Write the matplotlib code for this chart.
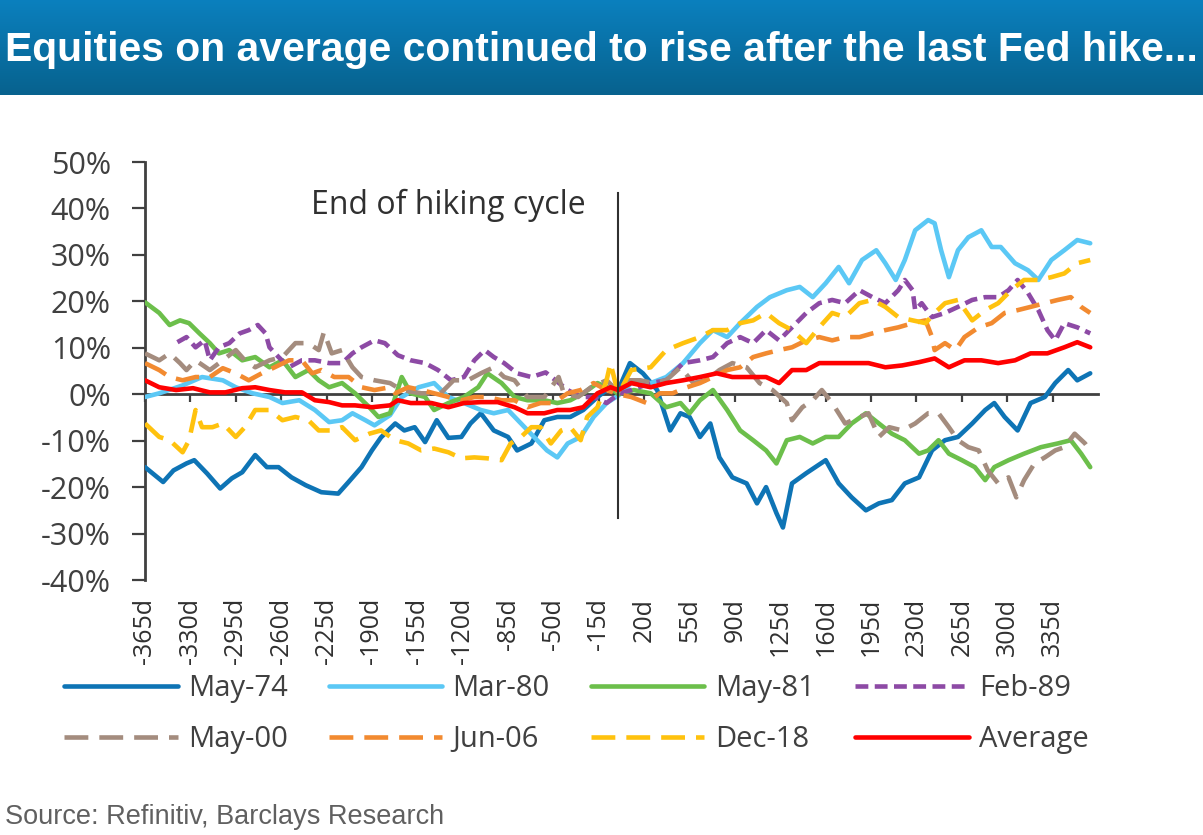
import matplotlib
matplotlib.use("Agg")
import matplotlib.pyplot as plt
import numpy as np
from matplotlib.ticker import FuncFormatter

# --- data: cumulative equity return (%) around the last Fed hike (day 0) ---
may74_days = [-365, -351, -343, -333, -327, -317, -307, -298, -290, -280, -271, -262, -252, -241, -229, -216, -208, -198, -190, -183,
              -172, -165, -157, -149, -140, -131, -121, -114, -106, -96, -85, -78, -67, -57, -47, -37, -27, -16, -6, 0,
              9, 19, 30, 40, 48, 55, 63, 71, 78, 88, 99, 107, 114, 122, 127, 134, 145, 160, 170, 180,
              191, 201, 211, 221, 232, 242, 252, 262, 273, 283, 290, 298, 308, 318, 329, 337, 347, 354, 364]
may74_vals = [-15.7, -18.9, -16.4, -14.9, -14.2, -17.1, -20.3, -18.1, -16.8, -13.1, -15.7, -15.7, -17.9, -19.6, -21.1, -21.4, -18.9, -15.7, -12.1, -9.3,
              -6.3, -7.8, -7.1, -10.3, -5.6, -9.4, -9.2, -6.3, -4.1, -7.8, -9.2, -12.1, -10.6, -5.6, -4.9, -4.9, -3.4, -0.6, 1.5, 0.9,
              6.7, 4.5, 0.9, -7.8, -4.1, -4.9, -9.2, -6.3, -13.6, -17.9, -19.2, -23.5, -20.0, -25.6, -28.7, -19.2, -17.0, -14.2, -19.2, -22.2,
              -25.0, -23.5, -22.8, -19.2, -17.9, -12.1, -9.9, -9.2, -6.3, -3.4, -1.9, -4.9, -7.8, -1.9, -0.6, 2.4, 5.2, 3.0, 4.5]

mar80_days = [-365, -354, -336, -321, -305, -295, -282, -269, -259, -246, -234, -223, -213, -205, -195, -188, -176, -167, -154, -142,
              -131, -119, -106, -96, -85, -75, -65, -55, -47, -39, -29, -19, -9, 0, 10, 25, 37, 50, 63, 73,
              84, 94, 107, 117, 130, 140, 150, 160, 170, 178, 188, 199, 206, 214, 221, 229, 239, 244, 249, 255,
              262, 270, 280, 288, 295, 306, 316, 324, 334, 344, 354, 364]
mar80_vals = [-0.6, 0.2, 1.9, 3.7, 3.0, 1.5, 0.2, -0.6, -1.9, -1.3, -3.4, -6.0, -5.6, -4.1, -5.6, -6.7, -4.5, -0.6, 1.5, 2.4,
              -0.6, -1.9, -3.4, -4.1, -3.4, -6.3, -9.2, -12.1, -13.6, -10.6, -9.2, -4.9, -1.9, -0.3, 2.4, 2.4, 3.7, 6.7, 11.0, 13.8,
              12.3, 15.3, 18.8, 20.9, 22.4, 23.1, 20.9, 23.9, 27.4, 23.9, 28.9, 31.0, 28.2, 24.6, 28.9, 35.3, 37.5, 36.8, 31.0, 25.2,
              31.0, 33.8, 35.3, 31.7, 31.7, 28.2, 26.7, 24.6, 28.9, 31.0, 33.2, 32.5]

may81_days = [-365, -354, -346, -338, -331, -323, -315, -308, -300, -290, -280, -269, -259, -249, -239, -231, -223, -213, -203, -192,
              -185, -176, -167, -160, -149, -142, -131, -119, -108, -101, -90, -80, -70, -57, -47, -37, -27, -16, -4, 0,
              12, 25, 37, 48, 55, 63, 73, 84, 94, 104, 114, 122, 130, 140, 150, 160, 170, 180, 191, 201,
              211, 221, 232, 239, 247, 255, 265, 275, 283, 290, 301, 313, 326, 339, 349, 357, 364]
may81_vals = [19.8, 17.5, 14.9, 15.9, 15.3, 13.1, 11.0, 8.8, 9.5, 7.3, 8.0, 5.8, 7.3, 3.7, 5.2, 3.0, 1.5, 2.4, 0.2, -2.8,
              -4.9, -4.1, 3.7, 0.2, -0.6, -3.4, -1.9, -0.6, 1.5, 4.5, 2.4, -0.6, -1.3, -1.3, -1.9, -1.3, 0.2, 2.4, 0.9, 0.0,
              0.9, 0.2, -2.8, -1.9, -4.1, -1.3, 0.9, -3.4, -7.8, -9.9, -12.1, -14.9, -9.9, -9.2, -10.6, -9.2, -9.2, -6.3, -4.1, -6.3,
              -8.5, -9.9, -12.8, -12.1, -9.9, -12.8, -14.2, -15.7, -18.5, -15.7, -14.2, -12.8, -11.4, -10.6, -9.9, -12.8, -15.7]

feb89_days = [-340, -333, -326, -319, -315, -308, -300, -292, -285, -278, -272, -269, -262, -254, -244, -234, -223, -213, -205, -198,
              -188, -180, -170, -160, -149, -139, -129, -119, -111, -103, -96, -88, -78, -67, -56, -39, -29, -19, -9, 0,
              10, 25, 37, 50, 63, 73, 84, 94, 104, 114, 124, 134, 145, 155, 165, 175, 186, 196, 206, 216,
              221, 227, 229, 234, 242, 252, 262, 273, 283, 293, 301, 308, 316, 324, 331, 337, 344, 354, 364]
feb89_vals = [11.2, 12.3, 10.1, 11.6, 7.3, 10.1, 11.0, 13.1, 13.8, 14.9, 13.1, 10.1, 8.0, 5.8, 7.3, 7.3, 6.7, 6.7, 8.8, 10.1,
              11.6, 11.0, 8.4, 7.3, 6.7, 5.2, 3.0, 3.7, 7.3, 9.5, 8.0, 6.7, 4.5, 3.7, 4.7, 0.9, -0.6, -0.6, -1.9, 0.0,
              0.9, 2.4, 3.0, 6.7, 7.3, 8.0, 11.0, 12.3, 11.0, 13.8, 11.6, 14.4, 17.5, 19.6, 20.3, 19.6, 22.4, 20.9, 19.6, 22.4,
              24.6, 22.4, 18.1, 19.6, 16.6, 17.5, 18.8, 20.3, 20.9, 20.9, 22.4, 24.6, 21.8, 18.1, 13.8, 11.6, 15.3, 14.4, 13.1]

may00_days = [-365, -354, -346, -338, -333, -326, -315, -305, -295, -288, -280, -269, -259, -249, -239, -231, -227, -221, -213, -205,
              -198, -188, -176, -167, -152, -137, -127, -116, -106, -96, -88, -80, -70, -57, -46, -42, -31, -21, -9, 0,
              7, 17, 27, 37, 48, 58, 68, 78, 88, 99, 109, 119, 130, 134, 142, 150, 157, 165, 175, 186,
              193, 201, 209, 219, 229, 239, 247, 255, 262, 270, 278, 285, 293, 301, 307, 313, 321, 329, 337, 344,
              352, 360, 364]
may00_vals = [8.8, 7.3, 8.8, 6.7, 5.2, 7.3, 5.2, 7.3, 9.5, 7.3, 5.8, 7.3, 8.0, 11.0, 11.0, 9.5, 13.4, 8.8, 9.5, 5.8,
              3.7, 3.0, 2.4, 0.9, 0.2, 0.2, 3.0, 3.0, 4.5, 5.8, 3.7, 3.0, -0.6, -0.6, 3.7, 0.2, -0.6, 1.5, 3.0, 0.5,
              3.0, 3.0, 2.4, 3.0, 5.8, 2.4, 3.0, 5.2, 6.7, 5.8, 2.4, 0.9, -1.9, -5.6, -2.8, -1.3, 0.9, -1.9, -6.3, -4.9,
              -4.1, -9.2, -7.1, -7.8, -6.3, -4.1, -4.1, -7.1, -9.9, -11.4, -12.1, -16.4, -19.2, -17.9, -22.2, -18.5, -14.9, -13.6, -12.1, -11.4,
              -8.5, -10.6, -12.1]

jun06_days = [-365, -354, -346, -336, -326, -315, -305, -295, -285, -275, -265, -254, -244, -236, -229, -219, -208, -198, -188, -176,
              -172, -162, -152, -142, -131, -121, -111, -101, -90, -80, -70, -60, -50, -39, -29, -19, -9, 0, 10, 22,
              32, 42, 53, 63, 73, 84, 94, 104, 114, 124, 134, 145, 155, 165, 175, 186, 196, 206, 216, 227,
              237, 242, 244, 252, 260, 267, 278, 288, 298, 308, 318, 329, 339, 349, 357, 364]
jun06_vals = [6.7, 5.2, 3.7, 3.0, 3.7, 3.7, 5.6, 4.5, 3.0, 4.5, 5.8, 7.3, 7.3, 4.5, 5.2, 3.7, 3.7, 1.5, 0.9, 1.5,
              0.2, 1.5, 0.9, 0.2, -0.6, -1.3, -0.6, -0.6, -1.3, -1.3, -2.8, -1.9, -1.9, 0.2, 0.9, 2.4, 0.9, 0.0, -0.6, -1.9,
              0.2, 0.2, 1.5, 2.4, 3.7, 5.2, 5.8, 8.0, 8.8, 9.5, 10.1, 11.6, 12.3, 11.6, 12.3, 12.3, 13.1, 13.8, 14.4, 15.3,
              15.9, 12.3, 9.5, 11.0, 9.5, 12.3, 14.4, 15.3, 17.5, 18.1, 18.8, 19.6, 20.3, 20.9, 18.8, 17.5]

dec18_days = [-365, -354, -346, -336, -331, -326, -321, -313, -305, -295, -288, -280, -269, -259, -249, -239, -231, -221, -213, -203,
              -192, -183, -172, -162, -152, -142, -131, -121, -111, -101, -90, -83, -75, -67, -60, -52, -44, -37, -29, -24,
              -16, -9, -6, 0, 10, 25, 37, 50, 63, 73, 84, 94, 104, 114, 124, 134, 145, 155, 165, 175,
              186, 196, 206, 216, 227, 237, 244, 252, 262, 273, 283, 293, 303, 313, 324, 334, 344, 354, 364]
dec18_vals = [-6.3, -9.2, -9.9, -12.5, -9.9, -3.4, -7.1, -7.1, -6.3, -9.2, -7.1, -3.4, -3.4, -5.6, -4.9, -5.6, -7.8, -7.8, -7.1, -9.9,
              -8.5, -7.8, -9.9, -10.6, -12.1, -11.7, -12.5, -13.8, -13.6, -13.8, -14.2, -10.6, -9.2, -7.1, -7.1, -10.6, -7.8, -7.1, -9.9, -4.9,
              -2.8, 3.0, 6.7, 0.0, 5.2, 5.8, 9.5, 11.0, 12.3, 13.8, 13.8, 15.3, 15.9, 17.5, 15.3, 13.8, 11.0, 14.4, 17.5, 16.6,
              19.6, 20.3, 18.8, 16.6, 15.9, 15.3, 17.5, 19.6, 20.3, 15.9, 18.1, 19.6, 22.4, 24.6, 24.6, 25.2, 26.0, 28.2, 28.9]

avg_days = [-365, -354, -341, -328, -315, -303, -290, -280, -269, -257, -244, -234, -223, -213, -203, -190, -176, -170, -160, -144,
            -131, -119, -106, -93, -80, -70, -57, -47, -37, -27, -16, -6, 0, 10, 25, 37, 50, 63, 76, 88,
            101, 114, 124, 134, 145, 155, 168, 180, 193, 206, 219, 232, 244, 255, 267, 280, 293, 306, 318, 331,
            344, 354, 364]
avg_vals = [3.0, 1.5, 0.9, 1.3, 0.4, 0.4, 1.3, 1.5, 0.9, 0.4, 0.4, -1.3, -1.7, -2.4, -2.4, -2.8, -2.4, -1.3, -1.9, -1.9,
            -2.8, -1.9, -1.7, -1.7, -2.8, -4.1, -4.1, -3.4, -3.4, -2.8, 0.2, 1.5, 0.9, 2.4, 1.5, 2.4, 3.0, 3.7, 4.5, 3.7,
            3.7, 3.7, 2.4, 5.2, 5.2, 6.7, 6.7, 6.7, 6.7, 5.8, 6.2, 6.9, 7.7, 5.8, 7.3, 7.3, 6.7, 7.3, 8.8, 8.8,
            10.1, 11.2, 10.1]

tick_days = list(range(-365, 336, 35))
tick_labels = [f"{d}d" for d in tick_days]

series = [
    ("May-74", may74_days, may74_vals, "#0E74B5", "-"),
    ("Mar-80", mar80_days, mar80_vals, "#5BC8F5", "-"),
    ("May-81", may81_days, may81_vals, "#6CBF4B", "-"),
    ("Feb-89", feb89_days, feb89_vals, "#8D4AA5", (0, (2.8, 1.4))),
    ("May-00", may00_days, may00_vals, "#A48C7E", (0, (5.2, 2.4))),
    ("Jun-06", jun06_days, jun06_vals, "#F28A30", (0, (5.2, 2.4))),
    ("Dec-18", dec18_days, dec18_vals, "#FFC20E", (0, (5.2, 2.4))),
    ("Average", avg_days, avg_vals, "#FF0000", "-"),
]

W, H = 1203, 835
fig = plt.figure(figsize=(W / 100, H / 100), dpi=100)

# title banner with vertical gradient
bar_h = 95
bax = fig.add_axes([0, 1 - bar_h / H, 1, bar_h / H])
top = np.array([0x0B, 0x80, 0xBE]) / 255
bot = np.array([0x07, 0x62, 0x8E]) / 255
t = np.linspace(0, 1, 100)[:, None, None]
grad = top * (1 - t) + bot * t
bax.imshow(grad, aspect="auto", extent=[0, 1, 0, 1])
bax.set_axis_off()
fig.text(0.5, 1 - 50 / H, "Equities on average continued to rise after the last Fed hike...",
         ha="center", va="center", color="white", fontsize=29.4, fontweight="bold",
         family="Liberation Sans")

# main chart
ax = fig.add_axes([145 / W, (H - 580) / H, 953 / W, 418 / H])
for name, d, v, c, ls in series:
    ax.plot(d, v, color=c, lw=3.3, ls=ls, label=name, zorder=3,
            solid_capstyle="round", dash_capstyle="butt")

ax.set_xlim(-365, 370)
ax.set_ylim(-40, 50)
ax.set_yticks(range(-40, 51, 10))
ax.yaxis.set_major_formatter(FuncFormatter(lambda y, _: f"{y:.0f}%"))
for s in ["top", "right"]:
    ax.spines[s].set_visible(False)
ax.spines["left"].set_color("#404040")
ax.spines["left"].set_linewidth(2)
ax.spines["bottom"].set_position(("data", 0))
ax.spines["bottom"].set_color("#404040")
ax.spines["bottom"].set_linewidth(2)
ax.set_xticks(tick_days)
ax.tick_params(axis="x", direction="out", length=6, width=1.6, color="#404040", labelbottom=False)
ax.tick_params(axis="y", direction="out", length=9.5, width=1.6, color="#404040", pad=15,
               labelsize=22, labelcolor="#404040")
for lab in ax.get_yticklabels():
    lab.set_family("Open Sans")

sec = ax.secondary_xaxis("bottom")
sec.set_xticks(tick_days)
sec.set_xticklabels(tick_labels, rotation=90, family="Open Sans", fontsize=18, color="#303030")
sec.tick_params(length=0, pad=13)
sec.spines["bottom"].set_visible(False)

# end of hiking cycle marker
event_day = 0
ax.plot([event_day, event_day], [-26.7, 43.3], color="#303030", lw=1.5, zorder=4)
ax.text(-25, 40.7, "End of hiking cycle", ha="right", va="center", fontsize=23,
        family="Open Sans", color="#303030")

# legend filled row by row (matplotlib fills columns first)
handles, labels = ax.get_legend_handles_labels()
order = [0, 4, 1, 5, 2, 6, 3, 7]
fig.legend([handles[i] for i in order], [labels[i] for i in order], ncol=4, loc="upper left",
           bbox_to_anchor=(64 / W, (H - 674) / H),
           frameon=False, prop={"family": "Open Sans", "size": 21},
           handlelength=3.9, handletextpad=0.35, columnspacing=1.4, labelspacing=0.75,
           borderpad=0, borderaxespad=0, labelcolor="#404040")

fig.text(5 / W, (H - 817) / H, "Source: Refinitiv, Barclays Research", ha="left", va="center",
         fontsize=19.5, family="Liberation Sans", color="#606060")

fig.savefig("out.png", dpi=100)
